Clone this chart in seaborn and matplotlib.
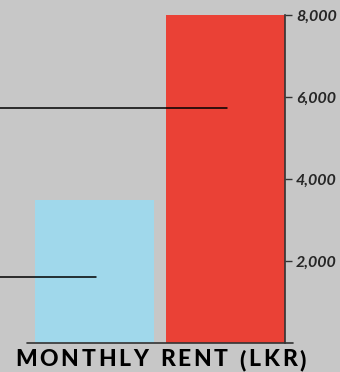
import matplotlib
matplotlib.use("Agg")
import matplotlib.pyplot as plt
import seaborn as sns
import pandas as pd

# data
categories = ["Room", "House"]
rent = [3500, 8000]
bar_colors = ["#a0d8eb", "#ea4136"]
ticks = [2000, 4000, 6000, 8000]
tick_labels = ["2,000", "4,000", "6,000", "8,000"]
# leader lines: level and the bar they end at
line_levels = [1620, 5740]
line_ends = [0, 1]
title = "MONTHLY RENT (LKR)"

sns.set_theme(style="white")
plt.rcParams["font.family"] = ["Lato", "DejaVu Sans"]

bg = "#c7c7c7"
fig = plt.figure(figsize=(3.4, 3.72), dpi=100, facecolor=bg)
ax = fig.add_axes([27 / 340, 1 - 343 / 372, 258 / 340, 328 / 372])
ax.set_facecolor(bg)

df = pd.DataFrame({"cat": categories, "rent": rent})
sns.barplot(data=df, x="cat", y="rent", hue="cat", palette=bar_colors,
            width=0.91, saturation=1, linewidth=0, legend=False, ax=ax)

ax.set_xlim(-0.52, 1.455)
ax.set_ylim(0, 8000)

# leader lines from the left edge
for lvl, end in zip(line_levels, line_ends):
    ax.plot([-0.75, end + 0.01], [lvl, lvl], color="black", lw=1.1, clip_on=False)

for s in ["left", "top", "bottom"]:
    ax.spines[s].set_visible(False)
ax.spines["right"].set_color("#333333")
ax.spines["right"].set_linewidth(1.2)
ax.plot([0, 1.031], [0, 0], transform=ax.transAxes, color="#333333", lw=1.2, clip_on=False)

ax.yaxis.tick_right()
ax.set_yticks(ticks)
ax.set_yticklabels(tick_labels, fontsize=11.5, fontweight="bold", fontstyle="italic")
ax.tick_params(axis="y", direction="out", length=5, width=1, color="#333333", pad=3)
ax.set_xticks([])
ax.set_xlabel("")
ax.set_ylabel("")

# title with letter spacing: place characters one by one
fs = 16.5
r = fig.canvas.get_renderer()
widths = []
for ch in title:
    t = fig.text(0, 0, ch if ch != " " else "n", fontsize=fs, fontweight="black")
    w = t.get_window_extent(r).width
    if ch == " ":
        w *= 0.5
    widths.append(w)
    t.remove()
left_px, right_px = 15, 306
track = (right_px - left_px - sum(widths)) / (len(title) - 1)
x = left_px
for ch, w in zip(title, widths):
    fig.text(x / 340, 1 - 360 / 372, ch, ha="left", va="center", fontsize=fs,
             fontweight="black", color="black")
    x += w + track

fig.savefig("out.png", dpi=100, facecolor=bg)
